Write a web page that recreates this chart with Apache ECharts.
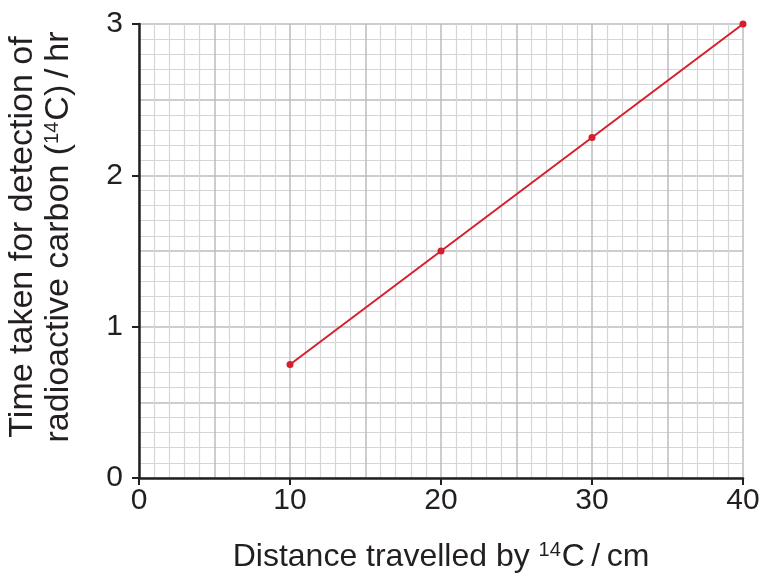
<!DOCTYPE html>
<html>
<head>
<meta charset="utf-8">
<script src="https://cdn.jsdelivr.net/npm/echarts@6/dist/echarts.min.js"></script>
<style>
  html, body { margin: 0; padding: 0; background: #fff; }
  #chart { width: 763px; height: 578px; }
</style>
</head>
<body>
<div id="chart"></div>
<script>
const distances = [10, 20, 30, 40];
const times = [0.75, 1.5, 2.25, 3];

const chart = echarts.init(document.getElementById('chart'));

const font = 'Liberation Sans, Arial, sans-serif';
const ink = '#231f20';
const majorGrid = '#bcbcc0';
const minorGrid = '#d6d6d6';

// axis 0 draws the grid only, axis 1 draws the line, ticks and labels
const gridAxis = (min, max, interval, split) => ({
  type: 'value', min, max, interval,
  axisLine: { show: false }, axisTick: { show: false }, axisLabel: { show: false },
  splitLine: { show: true, lineStyle: { color: majorGrid, width: 1.5 } },
  minorTick: { show: false, splitNumber: split },
  minorSplitLine: { show: true, lineStyle: { color: minorGrid, width: 1.2 } }
});

const supStyle = { fontSize: 20, fontFamily: font, color: ink, padding: [0, 1, 14, 0] };

const option = {
  animation: false,
  grid: { left: 139, right: 20, top: 24, bottom: 100, outerBoundsMode: 'none', containLabel: false },
  xAxis: [
    gridAxis(0, 40, 5, 5),
    {
      type: 'value', min: 0, max: 40, interval: 10, position: 'bottom',
      splitLine: { show: false },
      axisLine: { onZero: false, lineStyle: { color: ink, width: 2.5 } },
      axisTick: { length: 7, lineStyle: { color: ink, width: 2 } },
      axisLabel: { color: ink, fontSize: 30, fontFamily: font, margin: 8 },
      name: 'Distance travelled by {sup|14}C\u2009/\u2009cm',
      nameLocation: 'middle',
      nameGap: 62,
      nameTextStyle: {
        color: ink, fontSize: 32, fontFamily: font,
        rich: { sup: supStyle }
      }
    }
  ],
  yAxis: [
    gridAxis(0, 3, 0.5, 5),
    {
      type: 'value', min: 0, max: 3, interval: 1, position: 'left',
      splitLine: { show: false },
      axisLine: { onZero: false, lineStyle: { color: ink, width: 2.5 } },
      axisTick: { length: 7, lineStyle: { color: ink, width: 2 } },
      axisLabel: { color: ink, fontSize: 30, fontFamily: font, margin: 16 },
      name: 'Time taken for detection of\nradioactive carbon ({sup|14}C)\u2009/\u2009hr',
      nameLocation: 'middle',
      nameGap: 62,
      nameTextStyle: {
        color: ink, fontSize: 34, fontFamily: font, lineHeight: 36,
        padding: [0, 0, 0, 28],
        rich: { sup: supStyle }
      }
    }
  ],
  series: [{
    type: 'line',
    xAxisIndex: 1,
    yAxisIndex: 1,
    data: distances.map((d, i) => [d, times[i]]),
    symbol: 'circle',
    symbolSize: 7,
    lineStyle: { color: '#d61f2c', width: 2 },
    itemStyle: { color: '#d61f2c' },
    z: 5
  }]
};

chart.setOption(option);
</script>
</body>
</html>
